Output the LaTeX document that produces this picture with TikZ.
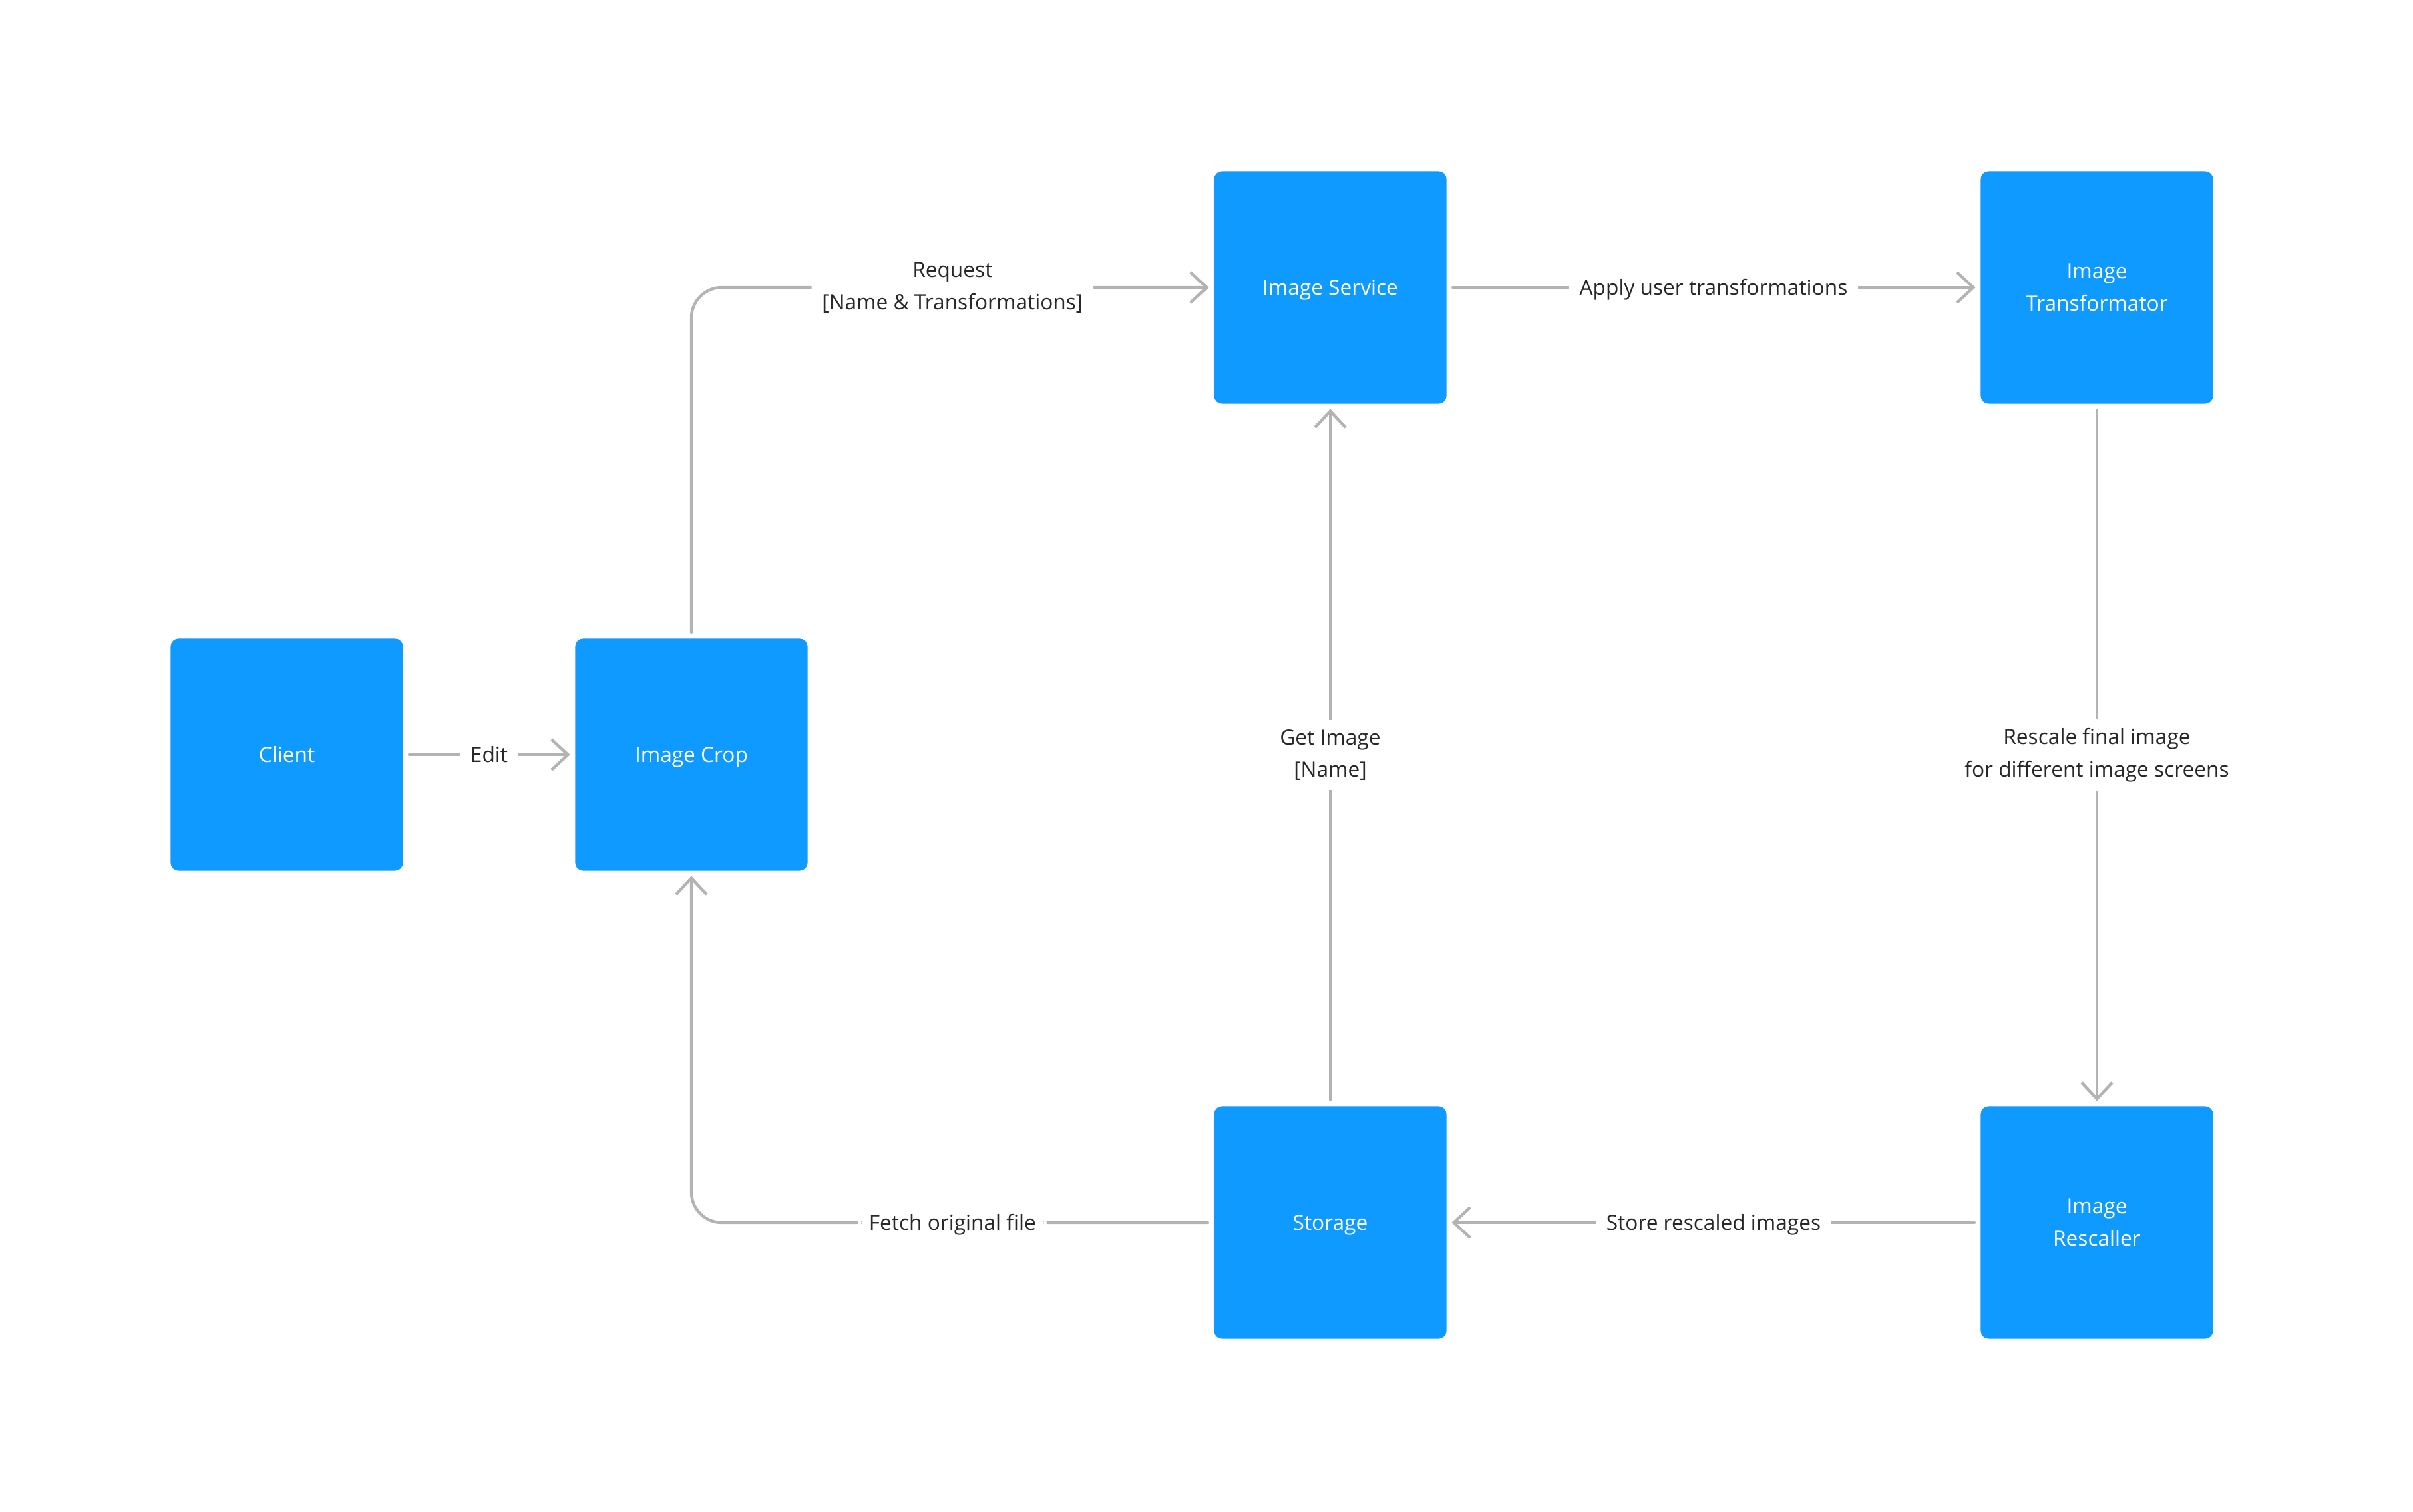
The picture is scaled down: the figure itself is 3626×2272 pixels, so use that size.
\documentclass[tikz,border=0pt]{standalone}
\usepackage{fontspec}
\setmainfont{Open Sans}
\usepackage{tikz}
\usetikzlibrary{arrows.meta,positioning}
\definecolor{boxblue}{RGB}{15,154,255}
\definecolor{linegray}{RGB}{179,179,179}
\definecolor{textgray}{RGB}{40,40,40}

\begin{document}
\begin{tikzpicture}[
        x=0.01cm, y=-0.01cm,
        >={Straight Barb[length=7pt,width=13pt]},
        block/.style={rectangle,fill=boxblue,rounded corners=3.4pt,minimum size=3.49cm,inner sep=0pt,text=white,align=center,font=\fontsize{9}{13.8}\selectfont},
        flow/.style={draw=linegray,line width=1.25pt,line cap=round,shorten <=2.5pt,shorten >=2pt},
        lbl/.style={fill=white,text=textgray,align=center,inner xsep=4.5pt,inner ysep=4pt,font=\fontsize{9}{13.8}\selectfont},
        oneline/.style={text height=6.4pt,text depth=0pt}
      ]
        \useasboundingbox (0,0) rectangle (3626,2272);
        \node[block,oneline] (client)    at (431,1134)  {Client};
        \node[block,oneline] (crop)      at (1039,1134) {Image Crop};
        \node[block,oneline] (service)   at (1999,432)  {Image Service};
        \node[block]         (transform) at (3151,432)  {Image\\Transformator};
        \node[block,oneline] (storage)   at (1999,1837) {Storage};
        \node[block]         (rescaler)  at (3151,1837) {Image\\Rescaller};
        \draw[flow,->] (client) -- node[lbl,oneline] {Edit} (crop);
        \draw[flow,->,rounded corners=13pt] (crop) |- node[lbl,pos=0.75] {Request\\{[Name \& Transformations]}} (service);
        \draw[flow,->] (service) -- node[lbl,oneline] {Apply user transformations} (transform);
        \draw[flow,->] (transform) -- node[lbl] {Rescale final image\\for different image screens} (rescaler);
        \draw[flow,->] (rescaler) -- node[lbl,oneline] {Store rescaled images} (storage);
        \draw[flow,->] (storage) -- node[lbl] {Get Image\\{[Name]}} (service);
        \draw[flow,->,rounded corners=13pt] (storage) -| node[lbl,oneline,pos=0.25] {Fetch original file} (crop);
      \end{tikzpicture}
\end{document}
